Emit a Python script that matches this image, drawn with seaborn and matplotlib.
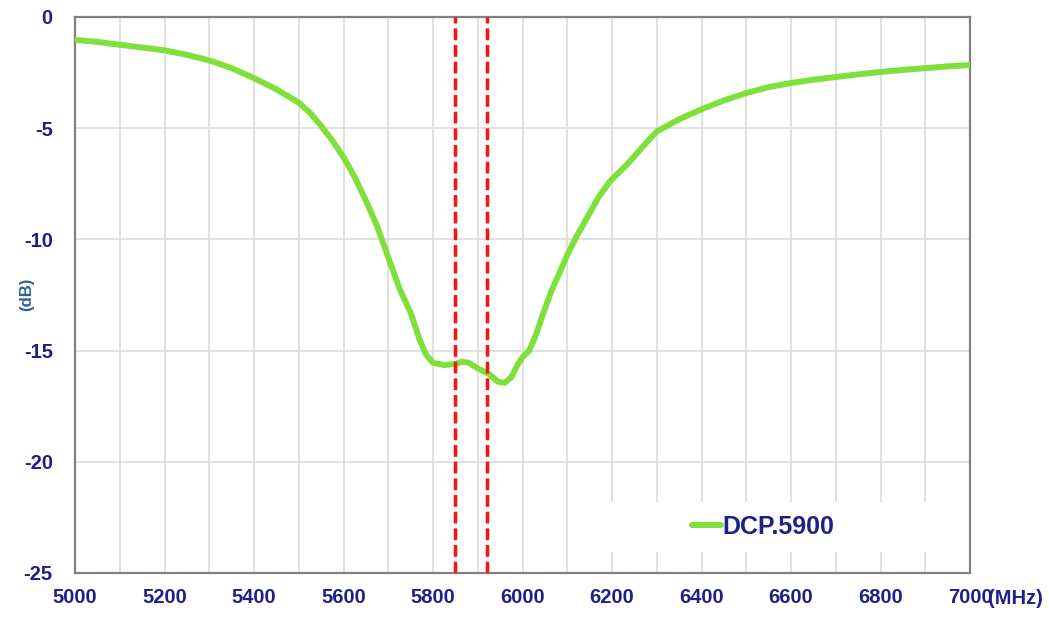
import matplotlib
matplotlib.use("Agg")
import matplotlib.pyplot as plt
import matplotlib.patches as mpatches
from matplotlib.ticker import MultipleLocator
import seaborn as sns
import pandas as pd

# ---- data ----
freq_mhz = [5000, 5050, 5100, 5150, 5200, 5250, 5300, 5350, 5400, 5450,
            5500, 5525, 5550, 5575, 5600, 5625, 5650, 5675, 5700, 5725,
            5750, 5770, 5785, 5800, 5825, 5850, 5865, 5880, 5900, 5925,
            5945, 5960, 5975, 5990, 6000, 6015, 6030, 6045, 6065, 6085,
            6100, 6120, 6145, 6170, 6195, 6235, 6270, 6300, 6350, 6400,
            6450, 6500, 6550, 6600, 6650, 6700, 6750, 6800, 6850, 6900,
            6950, 7000]
s11_db = [-1.03, -1.12, -1.25, -1.37, -1.50, -1.70, -1.95, -2.30, -2.75, -3.25,
          -3.85, -4.30, -4.90, -5.55, -6.30, -7.20, -8.25, -9.40, -10.8, -12.2,
          -13.3, -14.5, -15.2, -15.55, -15.65, -15.6, -15.5, -15.55, -15.8, -16.05,
          -16.4, -16.45, -16.2, -15.6, -15.3, -15.0, -14.3, -13.4, -12.3, -11.4,
          -10.7, -9.9, -9.0, -8.1, -7.4, -6.6, -5.8, -5.15, -4.6, -4.15,
          -3.75, -3.42, -3.15, -2.97, -2.82, -2.70, -2.58, -2.47, -2.38, -2.30,
          -2.22, -2.16]
series_name = "DCP.5900"
marker_lines = [5850, 5920]
x_ticks = [5000, 5200, 5400, 5600, 5800, 6000, 6200, 6400, 6600, 6800, 7000]
y_ticks = [-25, -20, -15, -10, -5, 0]
x_unit = "(MHz)"
y_label = "(dB)"

NAVY = "#1F1F8C"
GREEN = "#7FE03C"

sns.set_theme(style="white")
plt.rcParams["font.family"] = ["Liberation Sans", "DejaVu Sans"]
plt.rcParams["axes.unicode_minus"] = False

fig = plt.figure(figsize=(10.49, 6.18), dpi=100)
ax = fig.add_axes([75/1049, 1-573/618, (970-75)/1049, (573-17)/618])

df = pd.DataFrame({"freq": freq_mhz, "db": s11_db, "series": series_name})
sns.lineplot(data=df, x="freq", y="db", ax=ax, color=GREEN, linewidth=4.3,
             label=series_name, zorder=3, solid_capstyle="round",
             solid_joinstyle="round")

for xv in marker_lines:
    ax.axvline(xv, color="#FF1010", linewidth=2.5, dashes=(3.4, 1.4), zorder=4)

ax.set_xlim(5000, 7000)
ax.set_ylim(-25, 0)
ax.set_xticks(x_ticks)
ax.set_yticks(y_ticks)
ax.xaxis.set_minor_locator(MultipleLocator(100))
ax.set_axisbelow(True)
ax.grid(which="major", color="#D9D9D9", linewidth=1.1)
ax.grid(which="minor", axis="x", color="#D9D9D9", linewidth=1.1)

ax.tick_params(axis="both", which="major", direction="in", length=4, width=1.2,
               color="#555555", labelsize=14.5, labelcolor=NAVY)
ax.tick_params(axis="x", which="major", pad=11)
ax.tick_params(axis="y", which="major", pad=16)
ax.tick_params(which="minor", length=0)
for lbl in ax.get_xticklabels() + ax.get_yticklabels():
    lbl.set_fontweight("bold")

for sp in ax.spines.values():
    sp.set_visible(True)
    sp.set_color("#808080")
    sp.set_linewidth(1.6)

ax.set_xlabel("")
ax.set_ylabel("")

# white patch behind the legend (interrupts grid lines)
ax.add_patch(mpatches.Rectangle(((600-75)/895, (573-552)/556), (968-600)/895, 50/556,
                                transform=ax.transAxes, facecolor="white",
                                edgecolor="none", zorder=1))

leg = ax.legend(loc="center left", bbox_to_anchor=((692-75)/895, (573-527)/556),
                frameon=False, handlelength=1.15, handletextpad=0.05,
                borderaxespad=0, borderpad=0,
                prop={"size": 18, "weight": "bold"})
for t in leg.get_texts():
    t.set_color(NAVY)

fig.text(27/1049, 1-294/618, y_label, rotation=90, ha="center", va="center",
         fontsize=12, fontweight="bold", color="#2F5E9E")
fig.text(988/1049, 1-598/618, x_unit, ha="left", va="center",
         fontsize=14.5, fontweight="bold", color=NAVY)

fig.savefig("out.png", dpi=100)
